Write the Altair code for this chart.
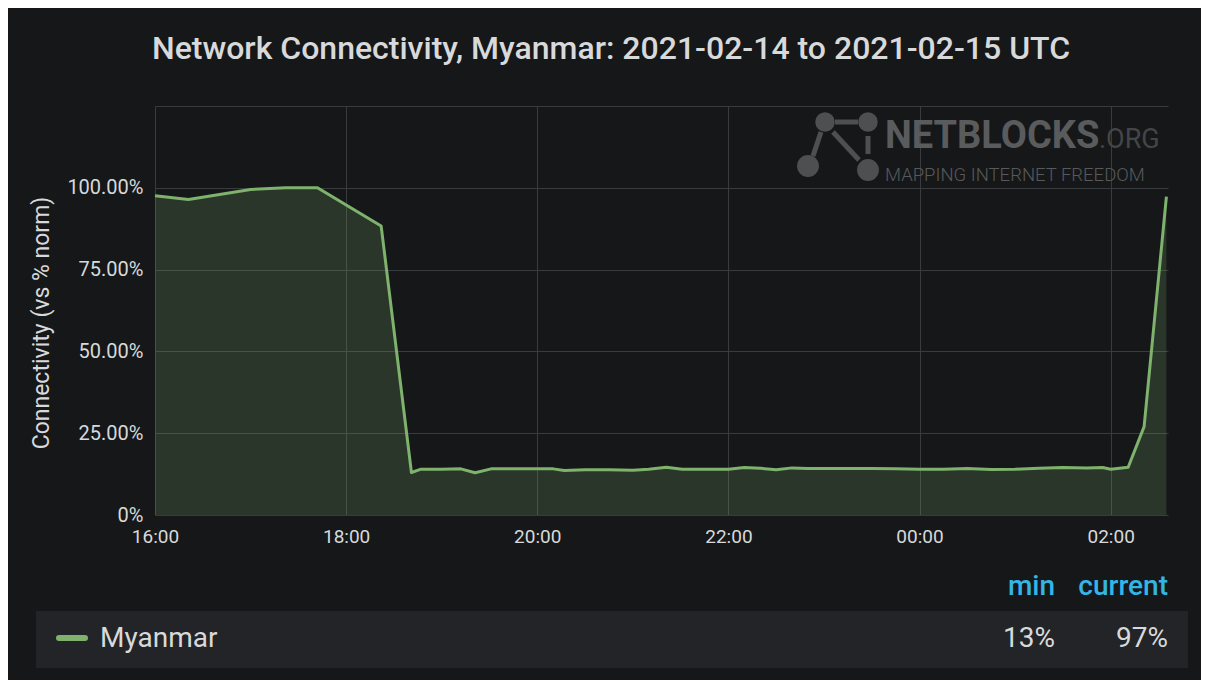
import altair as alt
import pandas as pd

# ---- data ----
times = ["16:00", "16:21", "17:00", "17:22", "17:42", "18:22", "18:41", "18:47",
         "19:00", "19:12", "19:21", "19:31", "19:45", "20:00", "20:10", "20:17",
         "20:30", "20:45", "21:00", "21:10", "21:21", "21:31", "21:45", "22:00",
         "22:10", "22:20", "22:30", "22:40", "22:50", "23:00", "23:15", "23:30",
         "23:45", "00:00", "00:15", "00:30", "00:45", "01:00", "01:15", "01:30",
         "01:45", "01:55", "02:00", "02:11", "02:21", "02:35"]
values = [97.6, 96.4, 99.5, 100.0, 100.0, 88.3, 13.0, 14.0,
          14.0, 14.1, 12.9, 14.1, 14.1, 14.1, 14.1, 13.6,
          13.8, 13.8, 13.7, 14.0, 14.6, 14.0, 14.0, 14.0,
          14.5, 14.3, 13.8, 14.4, 14.2, 14.2, 14.2, 14.2,
          14.1, 14.0, 14.0, 14.2, 13.9, 14.0, 14.3, 14.5,
          14.4, 14.5, 14.0, 14.6, 27.0, 97.3]
tick_hours = [(14, 16), (14, 18), (14, 20), (14, 22), (15, 0), (15, 2)]
series_name = "Myanmar"
stat_headers = ["min", "current"]
stat_values = ["13%", "97%"]
title_text = "Network Connectivity, Myanmar: 2021-02-14 to 2021-02-15 UTC"
y_title = "Connectivity (vs % norm)"


def to_iso(t):
    h, m = map(int, t.split(":"))
    day = 14 if h >= 16 else 15
    return f"2021-02-{day}T{h:02d}:{m:02d}:00Z"


df = pd.DataFrame({"time": [to_iso(t) for t in times], "value": values})

BG = "#161719"
GREEN = "#7eb26d"
TXT = "#d8d9da"
BLUE = "#33b5e5"
FONT = "Roboto"

x_scale = alt.Scale(
    type="utc",
    domain=[alt.DateTime(year=2021, month=2, date=14, hours=16, utc=True),
            alt.DateTime(year=2021, month=2, date=15, hours=2, minutes=36, utc=True)],
)
x_axis = alt.Axis(
    values=[alt.DateTime(year=2021, month=2, date=d, hours=h, utc=True) for d, h in tick_hours],
    format="%H:%M", title=None, labelPadding=12, labelFontSize=19, labelFlush=False,
)
y_scale = alt.Scale(domain=[0, 125], nice=False)
y_axis = alt.Axis(
    values=[0, 25, 50, 75, 100, 125], title=None, labelPadding=12, labelFontSize=20,
    labelFlush=False,
    labelExpr="datum.value == 0 ? '0%' : (datum.value == 125 ? '' : format(datum.value, '.2f') + '%')",
)

base = alt.Chart(df)
area = base.mark_area(color=GREEN, opacity=0.2).encode(
    x=alt.X("time:T", scale=x_scale, axis=x_axis),
    y=alt.Y("value:Q", scale=y_scale, axis=y_axis),
)
line = base.mark_line(color=GREEN, strokeWidth=3, strokeJoin="round").encode(
    x=alt.X("time:T", scale=x_scale),
    y=alt.Y("value:Q", scale=y_scale),
)

one = pd.DataFrame({"k": [0]})
ann = alt.Chart(one)

title = ann.mark_text(text=title_text, font=FONT, fontSize=32, fontWeight=500,
                      color=TXT, align="center", baseline="alphabetic").encode(
    x=alt.value(456), y=alt.value(-47))
ytitle = ann.mark_text(text=y_title, font=FONT, fontSize=23, color=TXT, angle=270,
                       align="center", baseline="middle").encode(
    x=alt.value(-113), y=alt.value(217))

# legend table
row = ann.mark_rect(color="#232427").encode(
    x=alt.value(-119), x2=alt.value(1033), y=alt.value(505), y2=alt.value(562))
swatch = ann.mark_rule(color=GREEN, strokeWidth=6, strokeCap="round").encode(
    x=alt.value(-96), x2=alt.value(-70), y=alt.value(532))
name = ann.mark_text(text=series_name, font=FONT, fontSize=28, color=TXT,
                     align="left", baseline="middle").encode(
    x=alt.value(-55), y=alt.value(533))
hdr_min = ann.mark_text(text=stat_headers[0], font=FONT, fontSize=28, fontWeight=500,
                        color=BLUE, align="right", baseline="alphabetic").encode(
    x=alt.value(900), y=alt.value(489))
hdr_cur = ann.mark_text(text=stat_headers[1], font=FONT, fontSize=28, fontWeight=500,
                        color=BLUE, align="right", baseline="alphabetic").encode(
    x=alt.value(1013), y=alt.value(489))
val_min = ann.mark_text(text=stat_values[0], font=FONT, fontSize=28, color=TXT,
                        align="right", baseline="middle").encode(
    x=alt.value(900), y=alt.value(533))
val_cur = ann.mark_text(text=stat_values[1], font=FONT, fontSize=28, color=TXT,
                        align="right", baseline="middle").encode(
    x=alt.value(1013), y=alt.value(533))

# watermark (decoration)
WM = "#4e4f51"
wm1 = ann.mark_text(text="NETBLOCKS", font=FONT, fontSize=38, fontWeight="bold",
                    color="#5a5b5d", align="left", baseline="alphabetic").encode(
    x=alt.value(730), y=alt.value(42))
wm2 = ann.mark_text(text=".ORG", font=FONT, fontSize=27, color="#444547",
                    align="left", baseline="alphabetic").encode(
    x=alt.value(944), y=alt.value(42))
wm3 = ann.mark_text(text="MAPPING INTERNET FREEDOM", font=FONT, fontSize=18.5,
                    fontWeight=300, color="#58595b", align="left",
                    baseline="alphabetic").encode(x=alt.value(730), y=alt.value(75))
icon_lines = [
    ann.mark_rule(color=WM, strokeWidth=5).encode(
        x=alt.value(680), x2=alt.value(703), y=alt.value(16), y2=alt.value(16)),
    ann.mark_rule(color=WM, strokeWidth=5).encode(
        x=alt.value(666), x2=alt.value(658), y=alt.value(26), y2=alt.value(50)),
    ann.mark_rule(color=WM, strokeWidth=5).encode(
        x=alt.value(678), x2=alt.value(704), y=alt.value(26), y2=alt.value(54)),
    ann.mark_rule(color=WM, strokeWidth=5).encode(
        x=alt.value(713), x2=alt.value(713), y=alt.value(30), y2=alt.value(48)),
]
icon_dots = [
    ann.mark_circle(color=WM, opacity=1, size=s).encode(x=alt.value(px), y=alt.value(py))
    for px, py, s in [(670, 16, 380), (713, 16, 380), (653, 60, 480), (713, 64, 480)]
]

chart = alt.layer(
    wm1, wm2, wm3, *icon_lines, *icon_dots,
    area, line, title, ytitle, row, swatch, name, hdr_min, hdr_cur, val_min, val_cur,
).properties(
    width=1013, height=409,
    padding={"left": 147, "top": 98, "right": 33, "bottom": 165},
    autosize=alt.AutoSizeParams(type="none"),
    background=BG,
).configure_view(stroke=None).configure_axis(
    domain=False, ticks=False, grid=True, gridColor="#3a3b3e", gridOpacity=1,
    labelColor=TXT, labelFont=FONT,
)

chart.save("out.html", embed_options={"renderer": "svg", "actions": False})
